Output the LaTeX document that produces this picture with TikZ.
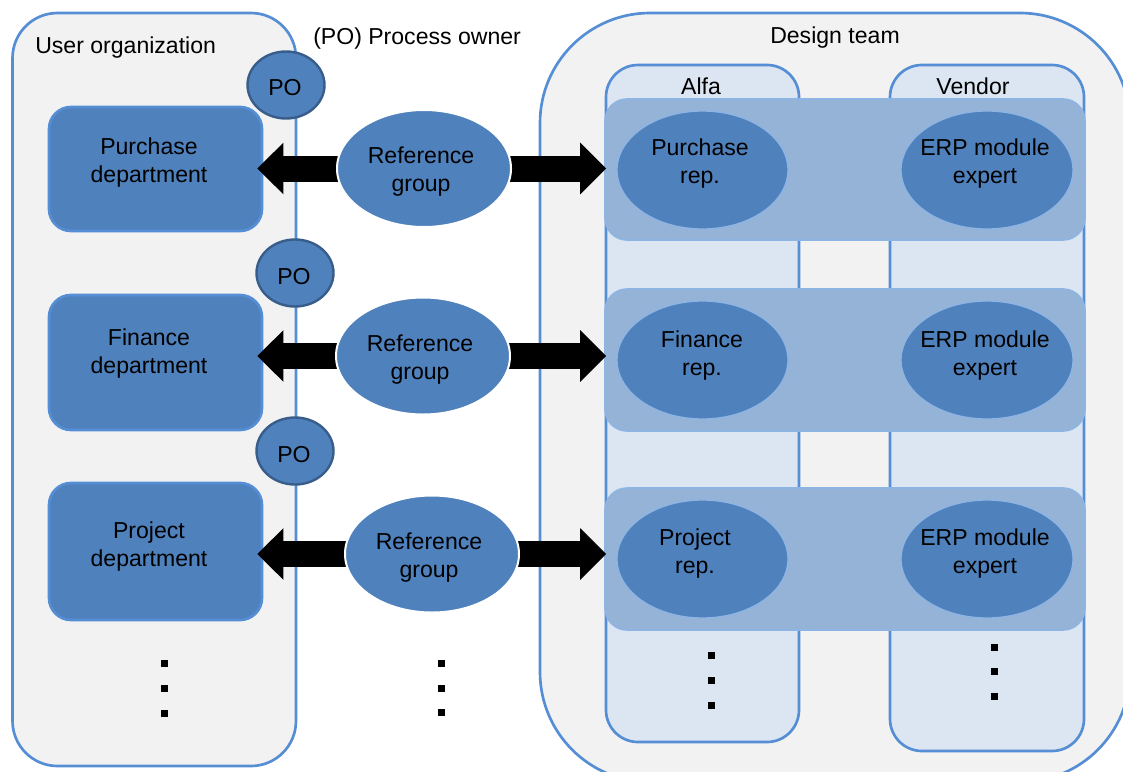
\documentclass[tikz,border=0pt]{standalone}
\usepackage{fontspec}
\setmainfont{Liberation Sans}
\usetikzlibrary{arrows.meta,calc,shapes.geometric}
\definecolor{bord}{HTML}{558ED5}
\definecolor{contfill}{HTML}{F2F2F2}
\definecolor{colfill}{HTML}{DCE6F2}
\definecolor{bandfill}{HTML}{95B3D7}
\definecolor{bandline}{HTML}{8EB4E3}
\definecolor{shapefill}{HTML}{4F81BD}
\definecolor{podark}{HTML}{385D8A}
\pgfdeclarelayer{front}
\pgfsetlayers{main,front}
\begin{document}
\begin{tikzpicture}[x=0.75pt,y=-0.75pt,
  font=\fontsize{17.3pt}{21pt}\selectfont,
  cont/.style={rectangle, draw=bord, line width=2pt, fill=contfill, inner sep=0pt},
  colbox/.style={rectangle, draw=bord, line width=2pt, fill=colfill, rounded corners=24pt, inner sep=0pt},
  band/.style={rectangle, draw=bandline, line width=1.2pt, fill=bandfill, rounded corners=16.5pt,
    minimum width=360pt, inner sep=0pt},
  dept/.style={rectangle, draw=bord, line width=2pt, fill=shapefill, rounded corners=16.5pt,
    minimum width=159.75pt, inner sep=0pt},
  rep/.style={ellipse, draw=bandline, line width=1pt, fill=shapefill, minimum height=88.5pt, inner sep=0pt},
  refg/.style={ellipse, draw=white, line width=1.5pt, fill=shapefill, minimum width=130.5pt,
    minimum height=87.75pt, inner sep=0pt},
  po/.style={ellipse, draw=podark, line width=1.8pt, fill=shapefill, minimum width=57.75pt,
    minimum height=50.25pt, inner sep=0pt},
  txt/.style={align=center, inner sep=0pt, yshift=-2.25pt},
  dotbox/.style={rectangle, fill=black, minimum size=5.25pt, inner sep=0pt},
  bigarrow/.style={line width=19.5pt, -{Triangle[length=19.5pt,width=37.5pt]}}
]
\clip (0,0) rectangle (1123,771);
\fill[white] (0,0) rectangle (1123,771);

% containers
\node[cont, rounded corners=33.75pt, minimum width=212.6pt, minimum height=564.75pt] (uo) at (154.25,389.5) {};
\node[txt, anchor=west] (uol) at (35,45) {User organization};
\node[txt, anchor=west] (pol) at (313,36) {(PO) Process owner};

\node[cont, rounded corners=82.5pt, minimum width=442.5pt, minimum height=576.75pt] (dt) at (835,397.5) {};
\node[txt] (dtl) at (835,35) {Design team};

\node[colbox, minimum width=144.75pt, minimum height=507.75pt] (alfa) at (702.5,403.5) {};
\node[colbox, minimum width=145.5pt, minimum height=514.5pt] (vend) at (987,408) {};
\node[txt] (alfal) at (701,83) {Alfa};
\node[txt] (vendl) at (973,83) {Vendor};

% bands
\node[band, minimum height=105.75pt] (b1) at (845,169.5) {};
\node[band, minimum height=106.5pt] (b2) at (845,360) {};
\node[band, minimum height=106.5pt] (b3) at (845,559) {};

% rep ellipses
\node[rep, minimum width=128.25pt] (pr1) at (702.5,170) {};
\node[txt] (pr1t) at (700,161) {Purchase\\rep.};
\node[rep, minimum width=129pt] (ex1) at (987,170) {};
\node[txt] (ex1t) at (985,161) {ERP module\\expert};

\node[rep, minimum width=128.25pt] (pr2) at (702.5,360) {};
\node[txt] (pr2t) at (702,352.5) {Finance\\rep.};
\node[rep, minimum width=129pt] (ex2) at (987,360) {};
\node[txt] (ex2t) at (985,352.5) {ERP module\\expert};

\node[rep, minimum width=128.25pt] (pr3) at (702.5,559) {};
\node[txt] (pr3t) at (695,551) {Project\\rep.};
\node[rep, minimum width=129pt] (ex3) at (987,559) {};
\node[txt] (ex3t) at (985,551) {ERP module\\expert};

% department boxes
\node[dept, minimum height=93pt] (d1) at (155.5,169) {};
\node[txt] (d1t) at (149,160) {Purchase\\department};
\node[dept, minimum height=101.25pt] (d2) at (155.5,362.5) {};
\node[txt] (d2t) at (149,350.5) {Finance\\department};
\node[dept, minimum height=102.75pt] (d3) at (155.5,551.5) {};
\node[txt] (d3t) at (149,544) {Project\\department};

% reference groups and process owners (front layer)
\begin{pgfonlayer}{front}
\node[refg] (r1) at (424,168.5) {};
\node[txt] (r1t) at (421,168.5) {Reference\\group};
\node[refg] (r2) at (423,356) {};
\node[txt] (r2t) at (420,357) {Reference\\group};
\node[refg] (r3) at (432,554) {};
\node[txt] (r3t) at (429,555) {Reference\\group};
\node[po] (po1) at (286,85) {};
\node[txt] (po1t) at (285,85) {PO};
\node[po] (po2) at (295,273) {};
\node[txt] (po2t) at (294,274) {PO};
\node[po] (po3) at (295,451) {};
\node[txt] (po3t) at (294,452) {PO};
\end{pgfonlayer}

% arrows
\draw[bigarrow] (r1.center) -- ($(r1.center -| d1.east)+(-6,0)$);
\draw[bigarrow] (r1.center) -- ($(r1.center -| b1.west)+(2,0)$);
\draw[bigarrow] (r2.center) -- ($(r2.center -| d2.east)+(-6,0)$);
\draw[bigarrow] (r2.center) -- ($(r2.center -| b2.west)+(2,0)$);
\draw[bigarrow] (r3.center) -- ($(r3.center -| d3.east)+(-6,0)$);
\draw[bigarrow] (r3.center) -- ($(r3.center -| b3.west)+(2,0)$);

% continuation dots
\foreach \yy [count=\i] in {663,688,713} {\node[dotbox] (dl\i) at (164,\yy) {};}
\foreach \yy [count=\i] in {663,688,712} {\node[dotbox] (dm\i) at (441,\yy) {};}
\foreach \yy [count=\i] in {655,680,705} {\node[dotbox] (da\i) at (711,\yy) {};}
\foreach \yy [count=\i] in {647,671,696} {\node[dotbox] (dv\i) at (994,\yy) {};}
\end{tikzpicture}
\end{document}
